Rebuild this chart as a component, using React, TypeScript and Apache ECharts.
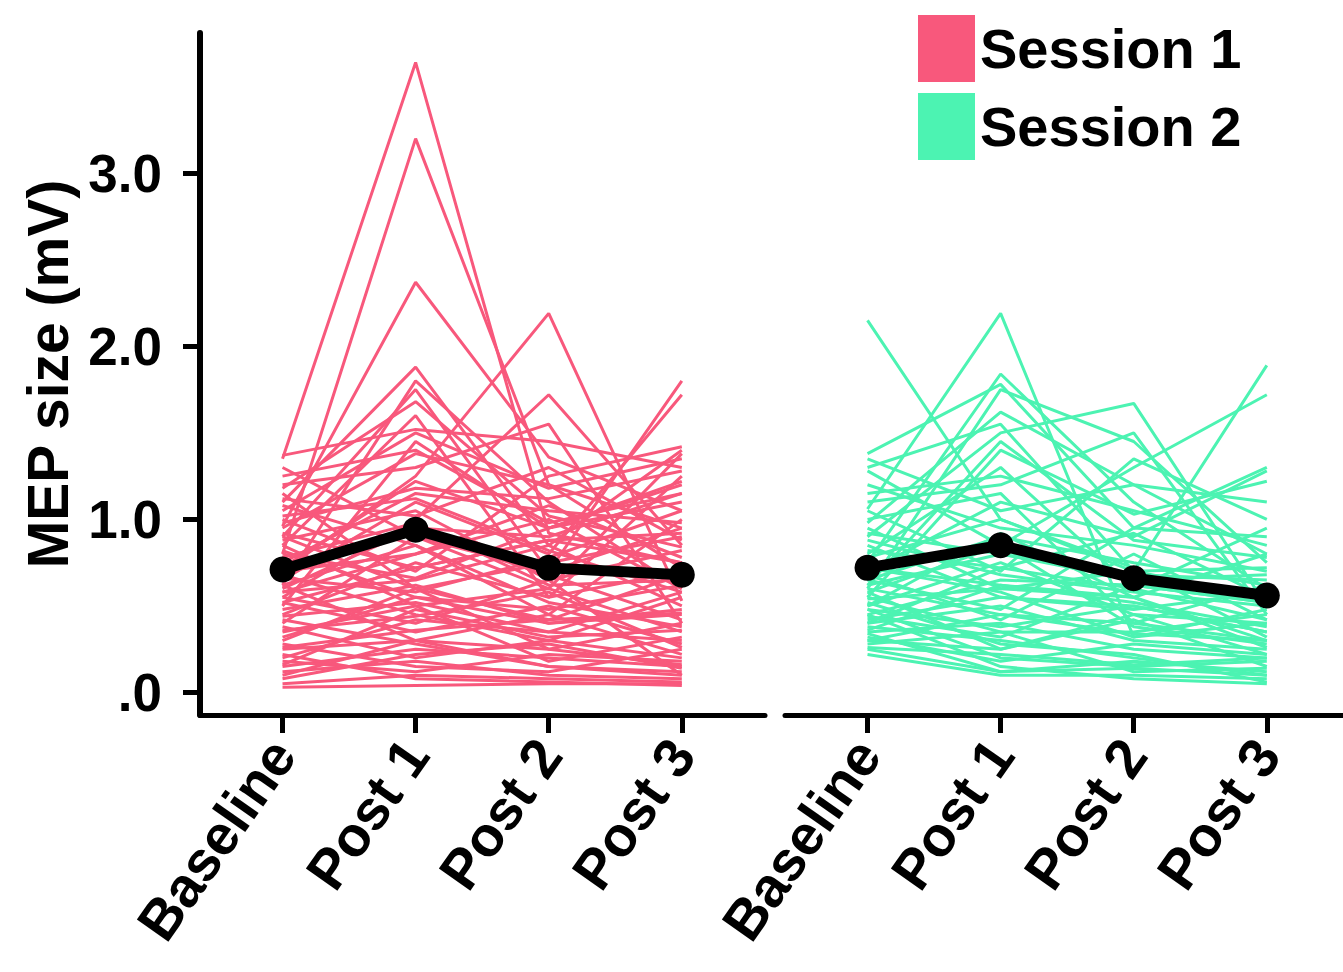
import React, { useEffect, useRef } from "react";
import * as echarts from "echarts";

const categories = ["Baseline", "Post 1", "Post 2", "Post 3"];
const yTickValues = [0, 1, 2, 3];
const sessionNames = ["Session 1", "Session 2"];

// each row: one subject, values at Baseline, Post 1, Post 2, Post 3 (mV)
const session1Subjects: number[][] = [
  [1.35, 3.64, 0.92, 0.75],
  [0.8, 3.2, 1.2, 0.95],
  [0.96, 2.37, 1.36, 1.05],
  [0.7, 1.25, 2.19, 0.53],
  [1.1, 1.88, 0.85, 1.4],
  [0.62, 1.8, 1.1, 0.6],
  [0.9, 1.75, 0.7, 1.8],
  [0.55, 1.0, 1.72, 0.85],
  [1.37, 1.52, 1.45, 1.3],
  [1.3, 0.9, 0.6, 1.38],
  [0.5, 1.45, 0.95, 1.1],
  [1.2, 1.3, 1.55, 0.4],
  [0.85, 1.6, 0.55, 1.25],
  [1.0, 0.7, 1.25, 1.42],
  [0.75, 1.15, 1.05, 0.98],
  [1.08, 0.85, 0.45, 1.0],
  [0.65, 1.1, 0.8, 1.72],
  [0.95, 1.38, 1.2, 0.72],
  [0.6, 0.95, 0.9, 1.15],
  [0.88, 1.05, 0.65, 0.82],
  [0.7, 0.8, 1.0, 0.6],
  [1.15, 0.6, 0.75, 0.9],
  [0.45, 0.75, 0.55, 0.7],
  [0.58, 0.65, 0.85, 0.5],
  [0.82, 0.55, 0.4, 0.45],
  [0.4, 0.9, 0.7, 0.95],
  [0.35, 0.5, 0.6, 0.35],
  [0.68, 0.45, 0.3, 0.55],
  [0.52, 0.35, 0.5, 0.28],
  [0.3, 0.6, 0.25, 0.4],
  [0.25, 0.3, 0.45, 0.22],
  [0.2, 0.42, 0.35, 0.3],
  [0.15, 0.25, 0.2, 0.15],
  [0.12, 0.18, 0.1, 0.08],
  [0.05, 0.1, 0.08, 0.06],
  [0.03, 0.04, 0.05, 0.05],
  [0.1, 0.3, 0.15, 0.12],
  [0.18, 0.12, 0.22, 0.18],
  [0.28, 0.15, 0.12, 0.25],
  [0.78, 0.98, 0.62, 0.65],
  [0.92, 0.72, 0.88, 0.75],
  [0.62, 0.85, 0.52, 0.38],
  [0.48, 0.62, 0.4, 0.48],
  [0.38, 0.2, 0.3, 0.2],
  [0.72, 1.22, 0.95, 1.22],
  [1.02, 1.12, 0.82, 0.58],
  [0.55, 0.4, 0.65, 0.1],
  [0.85, 0.5, 0.18, 0.32],
  [0.22, 0.08, 0.06, 0.04],
  [0.42, 0.28, 0.15, 0.1],
  [0.32, 0.55, 0.48, 0.62],
  [0.08, 0.22, 0.28, 0.14],
  [0.98, 1.18, 1.12, 1.28],
  [1.12, 1.02, 1.3, 0.88],
  [0.66, 0.58, 0.78, 1.05],
  [0.8, 0.66, 0.95, 1.2],
  [0.58, 0.8, 1.08, 0.78],
  [1.25, 1.4, 0.98, 1.15],
  [0.74, 0.92, 0.68, 0.42],
  [0.44, 0.52, 0.35, 0.58],
  [0.36, 0.44, 0.58, 0.26],
  [0.9, 0.6, 0.42, 0.68],
  [0.52, 0.72, 0.88, 0.92],
  [1.05, 1.5, 1.18, 1.35],
  [0.26, 0.36, 0.42, 0.46],
  [0.62, 0.3, 0.25, 0.16],
  [0.16, 0.48, 0.32, 0.36],
  [1.18, 1.68, 1.02, 0.84],
];

const session2Subjects: number[][] = [
  [2.15, 1.0, 0.7, 0.55],
  [1.06, 2.19, 0.32, 0.4],
  [0.75, 1.84, 1.1, 0.6],
  [1.38, 1.78, 0.95, 1.3],
  [0.6, 1.75, 1.45, 0.75],
  [1.3, 1.55, 0.7, 1.89],
  [0.9, 1.5, 1.67, 0.5],
  [1.28, 0.85, 1.3, 1.72],
  [0.55, 1.4, 1.03, 1.22],
  [1.1, 1.2, 1.5, 0.45],
  [1.05, 0.7, 1.35, 1.0],
  [0.8, 1.3, 0.6, 0.95],
  [1.2, 0.95, 0.85, 0.7],
  [0.7, 1.1, 0.9, 1.28],
  [0.95, 0.6, 0.55, 0.8],
  [0.65, 0.9, 0.75, 0.62],
  [0.5, 0.75, 0.45, 0.4],
  [0.85, 0.55, 0.5, 0.35],
  [0.45, 0.65, 0.62, 0.52],
  [0.6, 0.45, 0.4, 0.3],
  [0.4, 0.5, 0.3, 0.25],
  [0.55, 0.35, 0.35, 0.45],
  [0.35, 0.4, 0.25, 0.2],
  [0.3, 0.25, 0.42, 0.15],
  [0.25, 0.12, 0.18, 0.12],
  [0.22, 0.1, 0.1, 0.08],
  [0.38, 0.3, 0.2, 0.1],
  [0.48, 0.2, 0.15, 0.18],
  [0.62, 0.8, 0.65, 0.68],
  [0.72, 0.62, 0.52, 0.38],
  [0.42, 0.55, 0.48, 0.58],
  [0.58, 0.85, 0.38, 0.28],
  [0.68, 0.42, 0.8, 0.42],
  [0.32, 0.18, 0.28, 0.22],
  [0.78, 1.0, 0.72, 0.32],
  [0.52, 0.28, 0.22, 0.06],
  [0.88, 0.68, 0.58, 0.5],
  [1.0, 1.15, 0.4, 0.62],
  [0.28, 0.35, 0.12, 0.14],
  [0.45, 0.15, 0.08, 0.05],
  [0.65, 0.48, 0.95, 0.9],
  [0.36, 0.62, 0.55, 0.26],
  [0.98, 1.62, 1.2, 1.1],
  [0.62, 1.45, 0.88, 0.78],
  [1.15, 1.25, 1.05, 0.85],
  [0.82, 0.72, 0.92, 0.55],
  [0.54, 0.6, 0.7, 0.72],
  [0.48, 0.38, 0.5, 0.35],
  [0.72, 0.58, 0.32, 0.48],
  [0.4, 0.72, 0.6, 0.42],
  [0.3, 0.45, 0.34, 0.3],
  [0.58, 0.25, 0.45, 0.22],
  [0.26, 0.22, 0.16, 0.2],
  [0.92, 0.8, 0.68, 0.65],
  [0.34, 0.12, 0.14, 0.1],
  [0.5, 0.92, 0.55, 0.3],
  [1.35, 1.05, 1.2, 0.8],
  [0.44, 0.32, 0.62, 0.52],
];

const session1Mean = [0.71, 0.94, 0.72, 0.68];
const session2Mean = [0.72, 0.85, 0.66, 0.56];

const PINK = "#F8587C";
const GREEN = "#4CF3B2";
const FONT = "'Liberation Sans', Arial, Helvetica, sans-serif";

function toPoints(row: number[]) {
  return row.map((v, i) => [i, v]);
}

export default function App() {
  const ref = useRef<HTMLDivElement>(null);

  useEffect(() => {
    if (!ref.current) return;
    const chart = echarts.init(ref.current, undefined, { renderer: "svg" });

    const xAxisBase = (gridIndex: number) => ({
      type: "value" as const,
      gridIndex,
      min: -0.62,
      max: 3.625,
      splitLine: { show: false },
      axisLine: { show: true, onZero: false, lineStyle: { color: "#000", width: 5 } },
      axisTick: {
        show: true,
        length: 18,
        lineStyle: { color: "#000", width: 5 },
        customValues: categories.map((_, i) => i),
      },
      axisLabel: {
        show: true,
        rotate: 55,
        margin: 30,
        fontSize: 56,
        fontWeight: "bold",
        fontFamily: FONT,
        color: "#000",
        customValues: categories.map((_, i) => i),
        formatter: (v: number) => categories[Math.round(v)] ?? "",
      },
    });

    const yAxisBase = (gridIndex: number, visible: boolean) => ({
      type: "value" as const,
      gridIndex,
      min: -0.13,
      max: 3.81,
      splitLine: { show: false },
      show: visible,
      name: visible ? "MEP size (mV)" : "",
      nameLocation: "middle" as const,
      nameRotate: 90,
      nameGap: 124,
      nameTextStyle: { fontSize: 57, fontWeight: "bold", fontFamily: FONT, color: "#000" },
      axisLine: { show: visible, onZero: false, lineStyle: { color: "#000", width: 6 } },
      axisTick: {
        show: visible,
        length: 17,
        lineStyle: { color: "#000", width: 5 },
        customValues: yTickValues,
      },
      axisLabel: {
        show: visible,
        margin: 38,
        fontSize: 53,
        fontWeight: "bold",
        fontFamily: FONT,
        color: "#000",
        customValues: yTickValues,
        formatter: (v: number) => (v === 0 ? ".0" : v.toFixed(1)),
      },
    });

    const series: any[] = [];
    session1Subjects.forEach((row) => {
      series.push({
        name: sessionNames[0],
        type: "line",
        xAxisIndex: 0,
        yAxisIndex: 0,
        data: toPoints(row),
        symbol: "none",
        silent: true,
        lineStyle: { color: PINK, width: 3 },
        itemStyle: { color: PINK },
        z: 2,
      });
    });
    session2Subjects.forEach((row) => {
      series.push({
        name: sessionNames[1],
        type: "line",
        xAxisIndex: 1,
        yAxisIndex: 1,
        data: toPoints(row),
        symbol: "none",
        silent: true,
        lineStyle: { color: GREEN, width: 3 },
        itemStyle: { color: GREEN },
        z: 2,
      });
    });
    [session1Mean, session2Mean].forEach((m, k) => {
      series.push({
        name: "Mean " + (k + 1),
        type: "line",
        xAxisIndex: k,
        yAxisIndex: k,
        data: toPoints(m),
        symbol: "circle",
        symbolSize: 26,
        silent: true,
        lineStyle: { color: "#000", width: 11 },
        itemStyle: { color: "#000" },
        z: 10,
      });
    });

    chart.setOption({
      animation: false,
      backgroundColor: "#fff",
      textStyle: { fontFamily: FONT },
      grid: [
        { left: 200, top: 33, width: 565, height: 682, containLabel: false, outerBoundsMode: "none" },
        { left: 785, top: 33, width: 565, height: 682, containLabel: false, outerBoundsMode: "none" },
      ],
      xAxis: [xAxisBase(0), xAxisBase(1)],
      yAxis: [yAxisBase(0, true), yAxisBase(1, false)],
      legend: {
        left: 918,
        top: 15,
        padding: 0,
        orient: "vertical",
        icon: "rect",
        itemWidth: 57,
        itemHeight: 67,
        itemGap: 11,
        selectedMode: false,
        data: [
          { name: sessionNames[0], itemStyle: { color: PINK } },
          { name: sessionNames[1], itemStyle: { color: GREEN } },
        ],
        textStyle: { fontSize: 56, fontWeight: "bold", fontFamily: FONT, color: "#000" },
      },
      series,
    });

    return () => chart.dispose();
  }, []);

  return (
    <div
      ref={ref}
      style={{ position: "absolute", left: 0, top: 0, width: 1343, height: 972, background: "#fff" }}
    />
  );
}
